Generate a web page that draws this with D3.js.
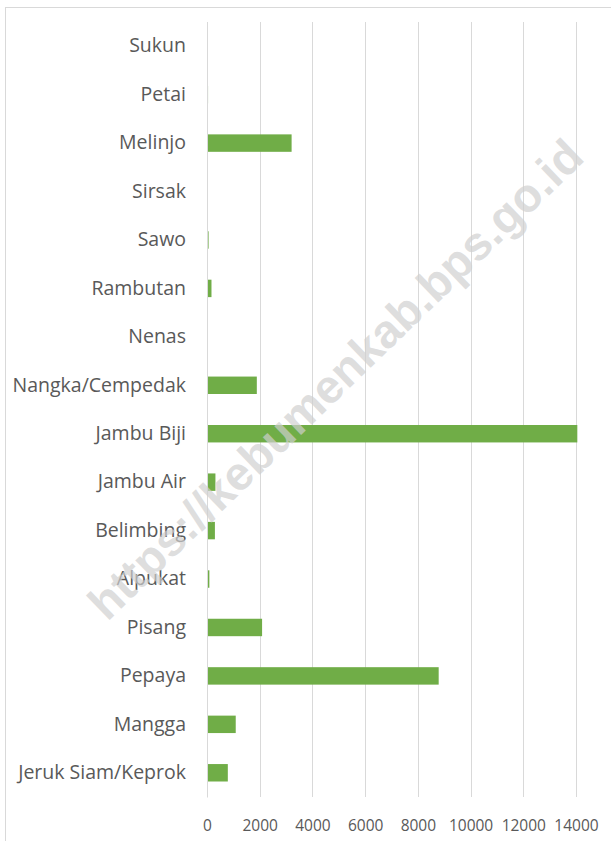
<!DOCTYPE html>
<html>
<head>
<meta charset="utf-8">
<script src="https://cdn.jsdelivr.net/npm/d3@7"></script>
<style>
  html, body { margin: 0; padding: 0; background: #fff; }
  svg { display: block; }
</style>
</head>
<body>
<div id="chart"></div>
<script>
// categories top -> bottom, as shown in the chart
let categories = ["Sukun", "Petai", "Melinjo", "Sirsak", "Sawo", "Rambutan", "Nenas",
  "Nangka/Cempedak", "Jambu Biji", "Jambu Air", "Belimbing", "Alpukat", "Pisang",
  "Pepaya", "Mangga", "Jeruk Siam/Keprok"];
let values = [0, 40, 3210, 0, 60, 170, 0, 1890, 14050, 320, 300, 90, 2090, 8790, 1090, 790];
let xTicks = [0, 2000, 4000, 6000, 8000, 10000, 12000, 14000];
let watermark = "https://kebumenkab.bps.go.id";

let width = 611, height = 841;
let margin = {top: 22, right: 35, bottom: 44, left: 207};

let svg = d3.select("#chart").append("svg")
  .attr("width", width)
  .attr("height", height);

// chart frame
svg.append("rect")
  .attr("x", 5.5).attr("y", 7.5)
  .attr("width", width + 20).attr("height", height + 20)
  .attr("fill", "none")
  .attr("stroke", "#d9d9d9");

let x = d3.scaleLinear()
  .domain([0, 14000])
  .range([margin.left, width - margin.right]);

let y = d3.scaleBand()
  .domain(categories)
  .range([margin.top, height - margin.bottom])
  .paddingInner(0.64)
  .paddingOuter(0.32);

// gridlines
svg.append("g").selectAll("line")
  .data(xTicks)
  .join("line")
  .attr("x1", d => Math.round(x(d)) + 0.5)
  .attr("x2", d => Math.round(x(d)) + 0.5)
  .attr("y1", margin.top)
  .attr("y2", height - margin.bottom)
  .attr("stroke", "#d9d9d9")
  .attr("stroke-width", 1);

// bars
svg.append("g").selectAll("rect")
  .data(categories)
  .join("rect")
  .attr("x", x(0))
  .attr("y", d => y(d))
  .attr("width", (d, i) => x(values[i]) - x(0))
  .attr("height", y.bandwidth())
  .attr("fill", "#70ad47");

// category labels
let yAxis = svg.append("g")
  .attr("transform", "translate(" + x(0) + ",0)")
  .call(d3.axisLeft(y).tickSize(0).tickPadding(21));
yAxis.select(".domain").attr("stroke", "#d9d9d9");
yAxis.selectAll("text")
  .attr("fill", "#595959")
  .style("font-family", "'Open Sans', sans-serif")
  .style("font-size", "19.5px");

// value axis labels
let xAxis = svg.append("g")
  .attr("transform", "translate(0," + (height - margin.bottom) + ")")
  .call(d3.axisBottom(x).tickValues(xTicks).tickSize(0).tickPadding(23).tickFormat(d3.format("d")));
xAxis.select(".domain").remove();
xAxis.selectAll("text")
  .attr("fill", "#595959")
  .style("font-family", "'Open Sans', sans-serif")
  .style("font-size", "15.5px");

// watermark
svg.append("text")
  .attr("transform", "translate(338,382) rotate(-44)")
  .attr("text-anchor", "middle")
  .attr("dominant-baseline", "middle")
  .attr("fill", "#cfcfcf")
  .attr("fill-opacity", 0.7)
  .style("font-family", "'Liberation Sans', Arial, sans-serif")
  .style("font-weight", "bold")
  .style("font-size", "47px")
  .text(watermark);
</script>
</body>
</html>
